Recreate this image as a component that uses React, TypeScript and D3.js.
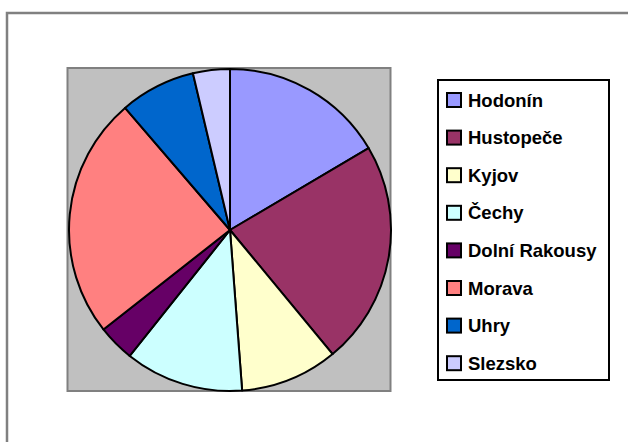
import React, { useEffect, useRef } from "react";
import * as d3 from "d3";

// region names and shares
const regions = ["Hodonín", "Hustopeče", "Kyjov", "Čechy", "Dolní Rakousy", "Morava", "Uhry", "Slezsko"];
const shares = [16.5, 22.5, 9.8, 11.9, 3.7, 24.3, 7.6, 3.7];
const colors = ["#9999FF", "#993366", "#FFFFCC", "#CCFFFF", "#660066", "#FF8080", "#0066CC", "#CCCCFF"];

const App = () => {
    const svgRef = useRef<SVGSVGElement>(null);

    useEffect(() => {
        const width = 628,
              height = 442;

        const svg = d3.select(svgRef.current)
            .attr("width", width)
            .attr("height", height);
        svg.selectAll("*").remove();

        // chart area border (runs off the right and bottom)
        svg.append("rect")
            .attr("x", 7).attr("y", 13)
            .attr("width", 800).attr("height", 600)
            .attr("fill", "white")
            .attr("stroke", "#808080")
            .attr("stroke-width", 2.5);

        // plot area
        svg.append("rect")
            .attr("x", 67.5).attr("y", 68)
            .attr("width", 323).attr("height", 323)
            .attr("fill", "#C0C0C0")
            .attr("stroke", "#808080")
            .attr("stroke-width", 2);

        const cx = 230, cy = 230, r = 161;
        const data = regions.map((name, i) => ({ name, value: shares[i], color: colors[i] }));

        const pie = d3.pie<any>().value(d => d.value).sort(null);
        const arc = d3.arc<any>().innerRadius(0).outerRadius(r);

        svg.append("g")
            .attr("transform", `translate(${cx},${cy})`)
            .selectAll("path")
            .data(pie(data))
            .join("path")
            .attr("d", arc)
            .attr("fill", d => d.data.color)
            .attr("stroke", "black")
            .attr("stroke-width", 2)
            .attr("stroke-linejoin", "round");

        // legend
        const legend = svg.append("g");
        legend.append("rect")
            .attr("x", 438).attr("y", 80)
            .attr("width", 171).attr("height", 300)
            .attr("fill", "white")
            .attr("stroke", "black")
            .attr("stroke-width", 2);

        const y0 = 100, step = 37.6;
        const items = legend.selectAll("g.item")
            .data(data)
            .join("g")
            .attr("class", "item")
            .attr("transform", (d, i) => `translate(0,${y0 + i * step})`);

        items.append("rect")
            .attr("x", 447).attr("y", -7)
            .attr("width", 14).attr("height", 14)
            .attr("fill", d => d.color)
            .attr("stroke", "black")
            .attr("stroke-width", 2);

        items.append("text")
            .attr("x", 468)
            .attr("y", 0)
            .attr("dy", "0.36em")
            .attr("font-family", "'Liberation Sans', Arial, sans-serif")
            .attr("font-weight", "bold")
            .attr("font-size", 18.5)
            .attr("fill", "black")
            .text(d => d.name);
    }, []);

    return <svg ref={svgRef} style={{ position: "absolute", left: 0, top: 0 }}></svg>;
};

export default App;
